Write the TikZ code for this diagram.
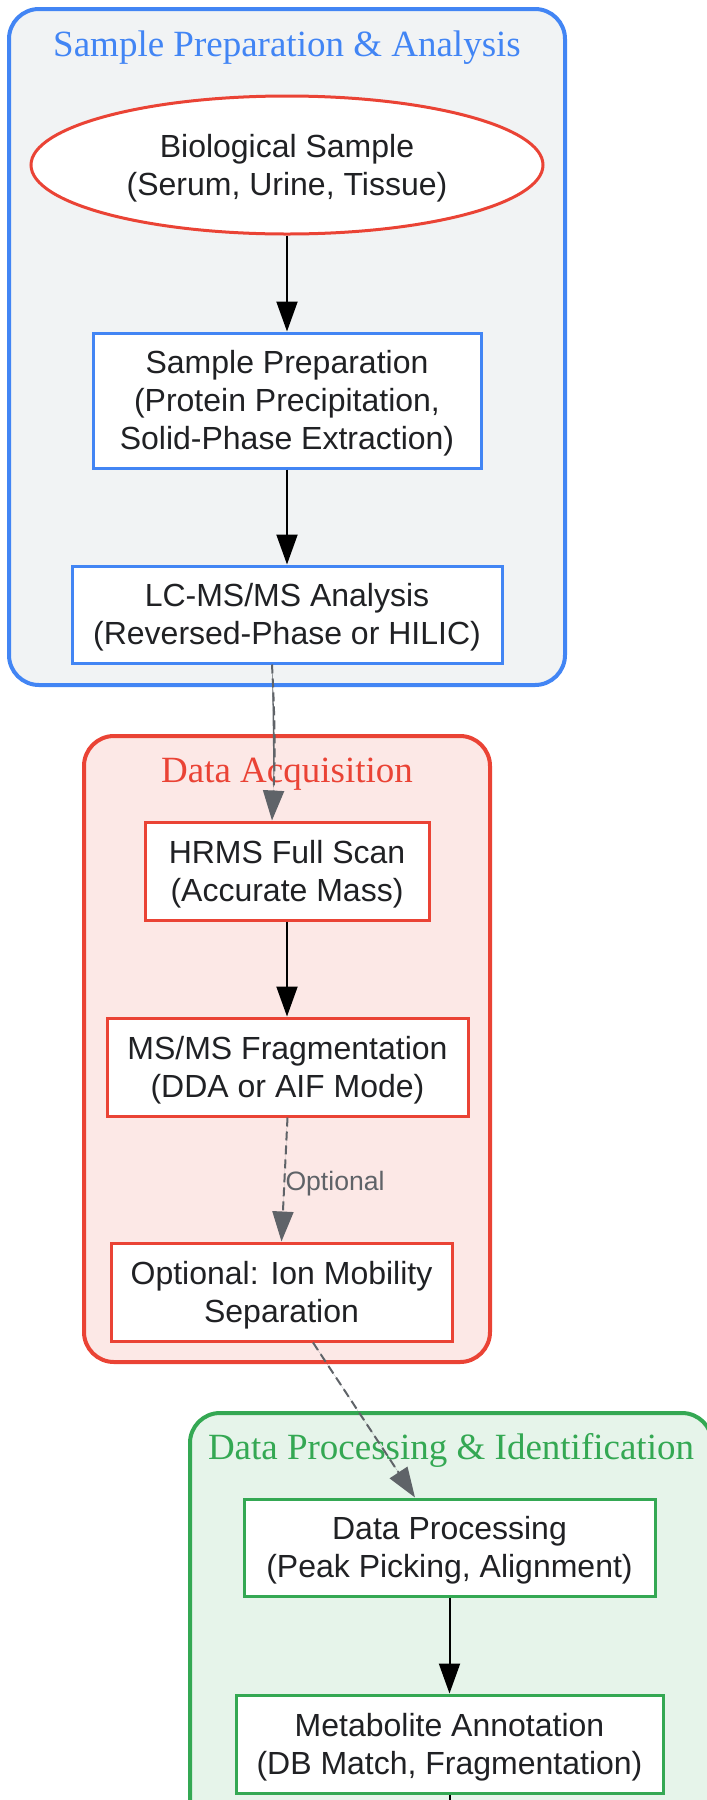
\documentclass[tikz,border=0pt]{standalone}
\usepackage{fontspec}
\setmainfont{Liberation Sans}
\newfontfamily\clusterfont{Liberation Serif}
\usetikzlibrary{arrows.meta,shapes.geometric,positioning,backgrounds}

\definecolor{prepblue}{HTML}{4285F4}
\definecolor{acqred}{HTML}{EA4335}
\definecolor{procgreen}{HTML}{34A853}
\definecolor{prepfill}{HTML}{F1F3F4}
\definecolor{acqfill}{HTML}{FCE8E6}
\definecolor{procfill}{HTML}{E6F4EA}
\definecolor{edgegray}{HTML}{5F6368}
\definecolor{textdark}{HTML}{202124}

\tikzset{
    cluster/.style={rounded corners=15pt, line width=2pt},
    clustertitle/.style={anchor=base, inner sep=0pt, font=\clusterfont\fontsize{18.5}{22}\selectfont},
    stepbox/.style={draw, fill=white, line width=1.5pt, align=center, text=textdark,
        minimum height=49pt, inner sep=0pt, font=\fontsize{16}{19}\selectfont,
        text height=33.9pt, text depth=3.5pt},
    threelines/.style={text height=52.9pt},
    flow/.style={-{Triangle[length=15pt,width=10.5pt]}, line width=1pt, draw=black},
    optflow/.style={-{Triangle[length=15pt,width=10.5pt]}, line width=1pt, draw=edgegray,
        fill=edgegray, dash pattern=on 4.5pt off 2.5pt}
}

\begin{document}
\begin{tikzpicture}[x=0.5pt,y=-0.5pt]
    \useasboundingbox (0,0) rectangle (707,1800);

    % groups
    \draw[cluster, draw=prepblue, fill=prepfill] (9,9) rectangle (565,685);
    \draw[cluster, draw=acqred, fill=acqfill] (84,736) rectangle (490,1362);
    \draw[cluster, draw=procgreen, fill=procfill] (190,1413) rectangle (712,1880);

    \node[clustertitle, text=prepblue] (preptitle) at (287,56) {Sample Preparation \& Analysis};
    \node[clustertitle, text=acqred] (acqtitle) at (287,782) {Data Acquisition};
    \node[clustertitle, text=procgreen] (proctitle) at (451,1459) {Data Processing \& Identification};

    % steps
    \node[stepbox, ellipse, draw=acqred, minimum width=256pt, minimum height=69pt] (sample) at (287,165)
        {Biological Sample\\(Serum, Urine, Tissue)};
    \node[stepbox, threelines, draw=prepblue, minimum width=194pt, minimum height=67.5pt] (prep) at (287,400.5)
        {Sample Preparation\\(Protein Precipitation,\\Solid-Phase Extraction)};
    \node[stepbox, draw=prepblue, minimum width=215pt, minimum height=48.5pt] (lcms) at (287,614.5)
        {LC-MS/MS Analysis\\(Reversed-Phase or HILIC)};

    \node[stepbox, draw=acqred, minimum width=142pt] (hrms) at (287,871)
        {HRMS Full Scan\\(Accurate Mass)};
    \node[stepbox, draw=acqred, minimum width=180.5pt] (msms) at (287.5,1067)
        {MS/MS Fragmentation\\(DDA or AIF Mode)};
    \node[stepbox, draw=acqred, minimum width=170.5pt] (ionmob) at (281.5,1292)
        {Optional: Ion Mobility\\Separation};

    \node[stepbox, draw=procgreen, minimum width=205.5pt, minimum height=48.5pt] (dataproc) at (449.5,1547.5)
        {Data Processing\\(Peak Picking, Alignment)};
    \node[stepbox, draw=procgreen, minimum width=213.5pt] (annot) at (449.5,1744)
        {Metabolite Annotation\\(DB Match, Fragmentation)};
    \coordinate (annotnext) at (449.5,1900);

    % connectors
    \draw[flow] (sample) -- (prep);
    \draw[flow] (prep) -- (lcms);
    \draw[optflow] ([xshift=-7.5pt]lcms.south) to[bend left=3] ([xshift=-7.5pt]hrms.north);
    \draw[flow] (hrms) -- (hrms |- msms.north);
    \draw[optflow] (msms.south) -- node[midway, anchor=west, inner sep=0pt, yshift=-2.3pt, text=edgegray,
        font=\fontsize{13.3}{16}\selectfont] (optlabel) {Optional} (ionmob.north);
    \draw[optflow] ([xshift=15.75pt]ionmob.south) -- ([xshift=-17.25pt]dataproc.north);
    \draw[flow] (dataproc) -- (annot);
    \draw[flow] (annot) -- (annotnext);
\end{tikzpicture}
\end{document}
